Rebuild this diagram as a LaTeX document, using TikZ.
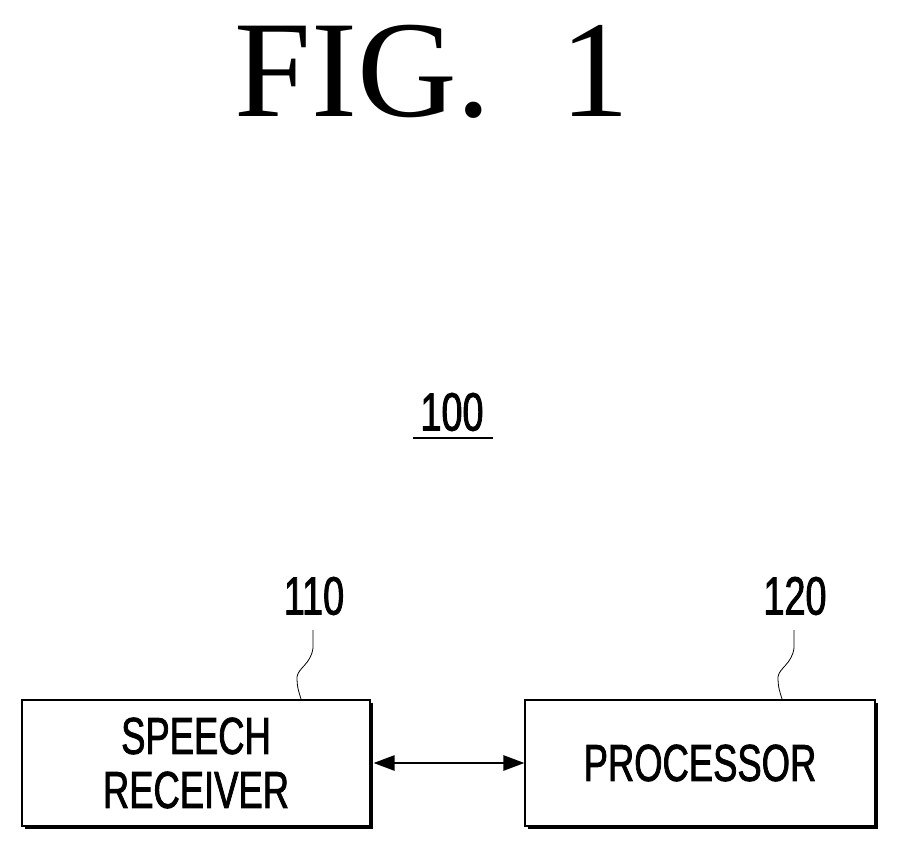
\documentclass[tikz,border=0pt]{standalone}
\usepackage{fontspec}
\setmainfont{Liberation Serif}
\newfontfamily\lab[FakeStretch=0.7,FakeBold=1.5]{Liberation Sans}
\usetikzlibrary{arrows.meta}
\begin{document}
\begin{tikzpicture}[x=1pt,y=-1pt,
  box/.style={draw,line width=1.3pt,minimum width=348pt,minimum height=126pt,inner sep=0pt,font=\lab\fontsize{52}{54}\selectfont,align=center,fill=white},
  shadow/.style={fill=black},
  lbl/.style={font=\lab\fontsize{54}{56}\selectfont,inner sep=0pt},
  tip/.style={Triangle[length=30pt,width=26pt]},
  lead/.style={line width=0.8pt}]
\useasboundingbox (0,0) rectangle (898,851);
\node[font=\fontsize{138}{140}\selectfont,inner sep=0pt] (title) at (432,72) {FIG.\ \ 1};
\node[lbl] (n100) at (452,412) {100};
\draw[line width=1.3pt] (413,438) -- (493,438);
\fill[shadow] (25,703) rectangle (373,829);
\fill[shadow] (528,703) rectangle (878,829);
\node[box] (sr) at (196,763) {SPEECH\\RECEIVER};
\node[box,minimum width=350pt] (pr) at (700,763) {PROCESSOR};
\draw[line width=1.5pt,{Triangle[length=30pt,width=22pt,scale=0.7]}-{Triangle[length=30pt,width=22pt,scale=0.7]}] (sr.east) ++(3,0) -- (pr.west);
\node[lbl] (n110) at (314,596) {110};
\node[lbl] (n120) at (795,596) {120};
\coordinate (a1) at (313,630);
\coordinate (a2) at (794,630);
\draw[lead] (a1) -- (313,648) .. controls (311,664) and (298,668) .. (297,677) .. controls (297,688) and (299,692) .. (301,699);
\draw[lead] (a2) -- (794,648) .. controls (792,664) and (779,668) .. (778,677) .. controls (778,688) and (780,692) .. (782,699);
\end{tikzpicture}
\end{document}
